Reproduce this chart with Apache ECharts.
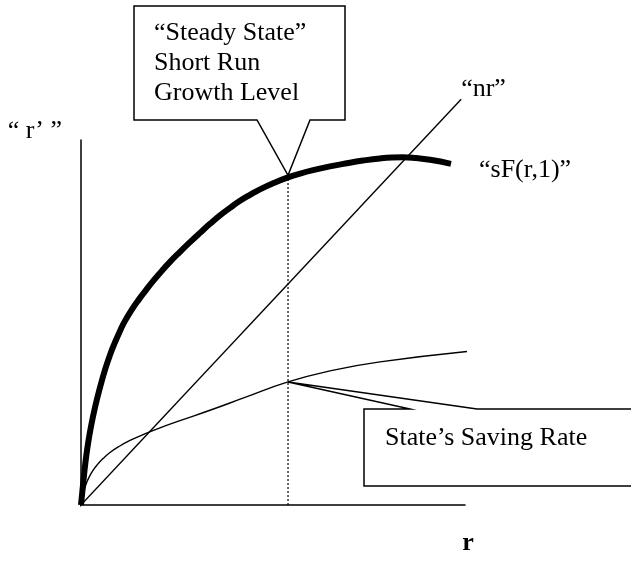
<!DOCTYPE html>
<html>
<head>
<meta charset="utf-8">
<script src="https://cdn.jsdelivr.net/npm/echarts@6/dist/echarts.min.js"></script>
<style>html,body{margin:0;padding:0;background:#fff;}#c{width:631px;height:563px;}</style>
</head>
<body>
<div id="c"></div>
<script>
// Thick production curve "sF(r,1)"
const sfCurve = [[0,0],[0.052,0.521],[0.117,1.12],[0.182,1.589],[0.26,2.042],[0.365,2.539],[0.495,3.06],[0.625,3.516],[0.755,3.906],[0.885,4.232],[1.016,4.531],[1.146,4.792],[1.328,5.091],[1.51,5.352],[1.667,5.56],[1.849,5.794],[2.083,6.068],[2.318,6.328],[2.578,6.589],[2.839,6.841],[3.099,7.083],[3.359,7.318],[3.62,7.539],[3.88,7.734],[4.141,7.917],[4.401,8.073],[4.661,8.216],[5.026,8.385],[5.391,8.529],[5.703,8.625],[6.042,8.714],[6.484,8.813],[6.927,8.896],[7.344,8.964],[7.786,9.021],[8.099,9.044],[8.385,9.049],[8.724,9.029],[9.089,8.984],[9.635,8.88]];
// Thin saving-rate curve
const savingCurve = [[0,0],[0.026,0.156],[0.078,0.375],[0.143,0.57],[0.208,0.719],[0.313,0.901],[0.443,1.07],[0.573,1.208],[0.755,1.365],[0.99,1.523],[1.276,1.68],[1.615,1.831],[2.057,2.008],[2.578,2.195],[3.359,2.466],[4.271,2.799],[5.391,3.203],[6.484,3.49],[7.786,3.724],[10.208,4.01]];
// Straight "nr" line
const nrLine = [[-0.1,-0.107],[9.9,10.56]];
// Steady state index in sfCurve / savingCurve
const steadyIdxSF = 28;
const steadyIdxSaving = 16;
// Texts
const yName = '\u201C r\u2019 \u201D';
const xName = 'r';
const nrLabel = '\u201Cnr\u201D';
const sfLabel = '\u201CsF(r,1)\u201D';
const steadyText = ['\u201CSteady State\u201D', 'Short Run', 'Growth Level'];
const savingText = 'State\u2019s Saving Rate';

const FONT = '"Liberation Serif", "Times New Roman", serif';
const chart = echarts.init(document.getElementById('c'), null, {renderer:'canvas'});
const steadyPt = sfCurve[steadyIdxSF];
const savingPt = savingCurve[steadyIdxSaving];

const option = {
  backgroundColor: '#fff',
  animation: false,
  grid: {left: 81, right: 166, top: 140, bottom: 58, outerBoundsMode: 'none'},
  xAxis: {
    type: 'value', min: 0, max: 10,
    axisLine: {show: true, onZero: false, lineStyle: {color: '#000', width: 1.5}},
    axisTick: {show: false}, axisLabel: {show: false}, splitLine: {show: false},
    name: xName, nameLocation: 'end', nameGap: 3,
    nameTextStyle: {fontFamily: FONT, fontSize: 26, fontWeight: 'bold', color: '#000', align: 'center', verticalAlign: 'top', lineHeight: 26, padding: [25, 0, 0, 0]}
  },
  yAxis: {
    type: 'value', min: 0, max: 9.5,
    axisLine: {show: true, onZero: false, lineStyle: {color: '#000', width: 1.5}},
    axisTick: {show: false}, axisLabel: {show: false}, splitLine: {show: false},
    name: yName, nameLocation: 'end', nameGap: 9,
    nameTextStyle: {fontFamily: FONT, fontSize: 26, color: '#000', align: 'right', verticalAlign: 'middle', padding: [0, 19, 0, 0]}
  },
  series: [
    {
      type: 'line', data: savingCurve, smooth: 0.5, symbol: 'none', clip: false,
      lineStyle: {color: '#000', width: 1.4}
    },
    {
      type: 'line', data: nrLine, symbol: 'none', clip: false,
      lineStyle: {color: '#000', width: 1.4},
      endLabel: {show: true, formatter: nrLabel, fontFamily: FONT, fontSize: 26, color: '#000', distance: 0, offset: [0, -10]}
    },
    {
      type: 'line', data: [[steadyPt[0], 0], [steadyPt[0], steadyPt[1]]], symbol: 'none', clip: false,
      lineStyle: {color: '#000', width: 1.2, type: [2, 2]}
    },
    {
      type: 'line', data: sfCurve, smooth: 0.5, symbol: 'none', clip: false,
      lineStyle: {color: '#000', width: 6},
      endLabel: {show: true, formatter: sfLabel, fontFamily: FONT, fontSize: 26, color: '#000', distance: 28, offset: [0, 6]}
    }
  ]
};
chart.setOption(option);

const tip1 = chart.convertToPixel({gridIndex: 0}, steadyPt);
const tip2 = chart.convertToPixel({gridIndex: 0}, savingPt);

chart.setOption({
  graphic: [
    {
      type: 'polygon', z: 100,
      shape: {points: [[134,6],[345,6],[345,120],[310,120],[tip1[0], tip1[1] - 2],[257,120],[134,120]]},
      style: {fill: '#fff', stroke: '#000', lineWidth: 1.5}
    },
    {
      type: 'text', z: 101, left: 154, top: 18,
      style: {text: steadyText.join('\n'), font: '26px ' + FONT, fill: '#000', lineHeight: 30}
    },
    {
      type: 'polygon', z: 100,
      shape: {points: [[660,409],[477,409],[tip2[0], tip2[1]],[410,409],[364,409],[364,486],[660,486]]},
      style: {fill: '#fff', stroke: '#000', lineWidth: 1.5}
    },
    {
      type: 'text', z: 101, left: 385, top: 425,
      style: {text: savingText, font: '26px ' + FONT, fill: '#000', lineHeight: 26}
    }
  ]
});
</script>
</body>
</html>
